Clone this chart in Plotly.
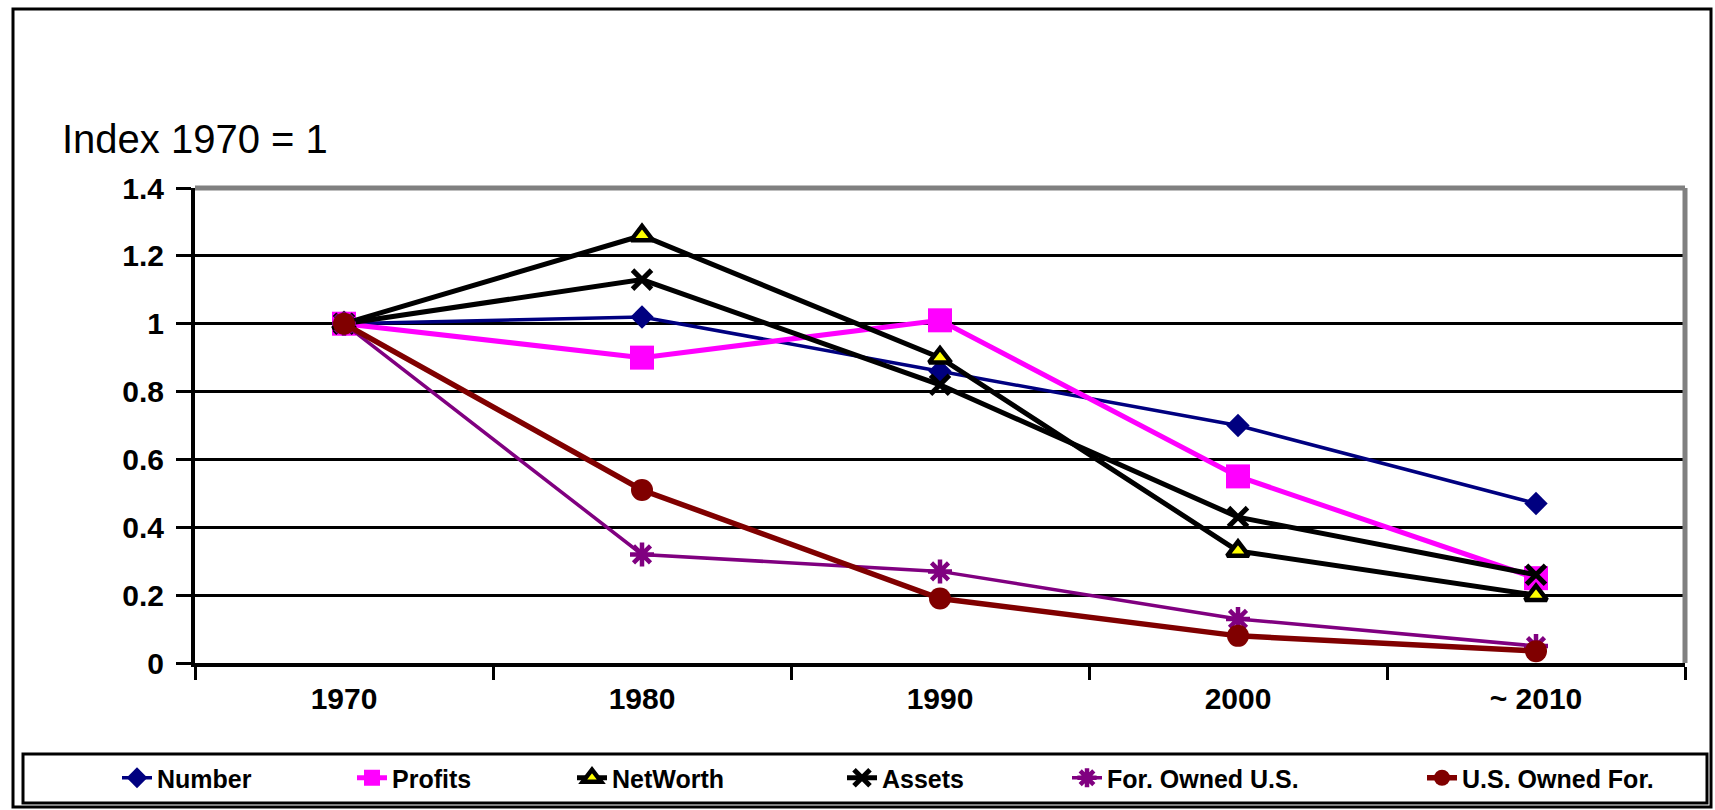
import plotly.graph_objects as go

# Decade categories and index values (1970 = 1)
years = ["1970", "1980", "1990", "2000", "~ 2010"]
number = [1.0, 1.02, 0.86, 0.70, 0.47]
profits = [1.0, 0.90, 1.01, 0.55, 0.25]
net_worth = [1.0, 1.26, 0.90, 0.33, 0.20]
assets = [1.0, 1.13, 0.82, 0.43, 0.26]
for_owned_us = [1.0, 0.32, 0.27, 0.13, 0.05]
us_owned_for = [1.0, 0.51, 0.19, 0.08, 0.035]

y_ticks = [0, 0.2, 0.4, 0.6, 0.8, 1.0, 1.2, 1.4]
y_tick_text = ["0", "0.2", "0.4", "0.6", "0.8", "1", "1.2", "1.4"]

W, H = 1715, 810
L, R, T, B = 195, 30, 188, 147
PW, PH = W - L - R, H - T - B


def px_x(px):
    return (px - L) / PW


def px_y(py):
    return (H - B - py) / PH


series = [
    dict(name="Number", y=number, color="#000080", width=3.5,
         marker=dict(symbol="diamond", size=18, color="#000080"),
         legend="legend", lw=190),
    dict(name="Profits", y=profits, color="#FF00FF", width=5,
         marker=dict(symbol="square", size=24, color="#FF00FF"),
         legend="legend", lw=175),
    dict(name="NetWorth", y=net_worth, color="#000000", width=5,
         marker=dict(symbol="triangle-up", size=19, color="#FFFF00",
                     line=dict(color="#000000", width=4.5)),
         legend="legend", lw=None),
    dict(name="Assets", y=assets, color="#000000", width=5,
         marker=dict(symbol="x-thin-open", size=19, color="#000000",
                     line=dict(color="#000000", width=5)),
         legend="legend2", lw=180),
    dict(name="For. Owned U.S.", y=for_owned_us, color="#800080", width=3.5,
         marker=dict(symbol="asterisk-open", size=20, color="#800080",
                     line=dict(color="#800080", width=4.5)),
         legend="legend2", lw=310),
    dict(name="U.S. Owned For.", y=us_owned_for, color="#800000", width=5.5,
         marker=dict(symbol="circle", size=22, color="#800000"),
         legend="legend2", lw=None),
]

fig = go.Figure()
for s in series:
    kw = {}
    if s["lw"]:
        kw["legendwidth"] = s["lw"]
    fig.add_trace(go.Scatter(
        x=years, y=s["y"], name=s["name"], mode="lines+markers",
        line=dict(color=s["color"], width=s["width"]),
        marker=s["marker"], legend=s["legend"], **kw,
    ))

tick_font = dict(family="Liberation Sans, Arial, sans-serif",
                 size=30, color="#000000", weight="bold")
legend_font = dict(family="Liberation Sans, Arial, sans-serif", size=25,
                   color="#000000", weight="bold")
legend_common = dict(
    orientation="h", xref="container", yref="container",
    y=1 - 778 / H, xanchor="left", yanchor="middle",
    bgcolor="rgba(0,0,0,0)", borderwidth=0, font=legend_font,
)

fig.update_layout(
    width=W, height=H,
    margin=dict(l=L, r=R, t=T, b=B),
    paper_bgcolor="#FFFFFF", plot_bgcolor="#FFFFFF",
    showlegend=True,
    legend=dict(x=117 / W, **legend_common),
    legend2=dict(x=842 / W, **legend_common),
    xaxis=dict(
        type="category", range=[-0.5, 4.5], tickson="boundaries",
        ticks="outside", ticklen=13, tickwidth=3, tickcolor="#000000",
        showline=True, linecolor="#000000", linewidth=4,
        showgrid=False, tickfont=tick_font, ticklabelstandoff=6,
        fixedrange=True,
    ),
    yaxis=dict(
        range=[0, 1.4], tickvals=y_ticks, ticktext=y_tick_text,
        ticks="outside", ticklen=15, tickwidth=3, tickcolor="#000000",
        showline=True, linecolor="#000000", linewidth=4,
        showgrid=True, gridcolor="#000000", gridwidth=3,
        zeroline=False, tickfont=tick_font, ticklabelstandoff=6,
        fixedrange=True,
    ),
    annotations=[dict(
        text="Index 1970 = 1", xref="paper", yref="paper",
        x=px_x(60), y=px_y(139), xanchor="left", yanchor="middle",
        showarrow=False,
        font=dict(family="Liberation Sans, Arial, sans-serif", size=40, color="#000000"),
    )],
    shapes=[
        # grey frame on top and right of the plot area
        dict(type="line", xref="paper", yref="paper", x0=0, x1=1, y0=1, y1=1,
             line=dict(color="#808080", width=5), layer="above"),
        dict(type="line", xref="paper", yref="paper", x0=1, x1=1, y0=0, y1=1,
             line=dict(color="#808080", width=5), layer="above"),
        # legend box
        dict(type="rect", xref="paper", yref="paper",
             x0=px_x(23), x1=px_x(1707), y0=px_y(803), y1=px_y(754),
             line=dict(color="#000000", width=3)),
        # outer chart border
        dict(type="rect", xref="paper", yref="paper",
             x0=px_x(13), x1=px_x(1711), y0=px_y(807), y1=px_y(9),
             line=dict(color="#000000", width=3)),
    ],
)

fig.write_html("out.html")
